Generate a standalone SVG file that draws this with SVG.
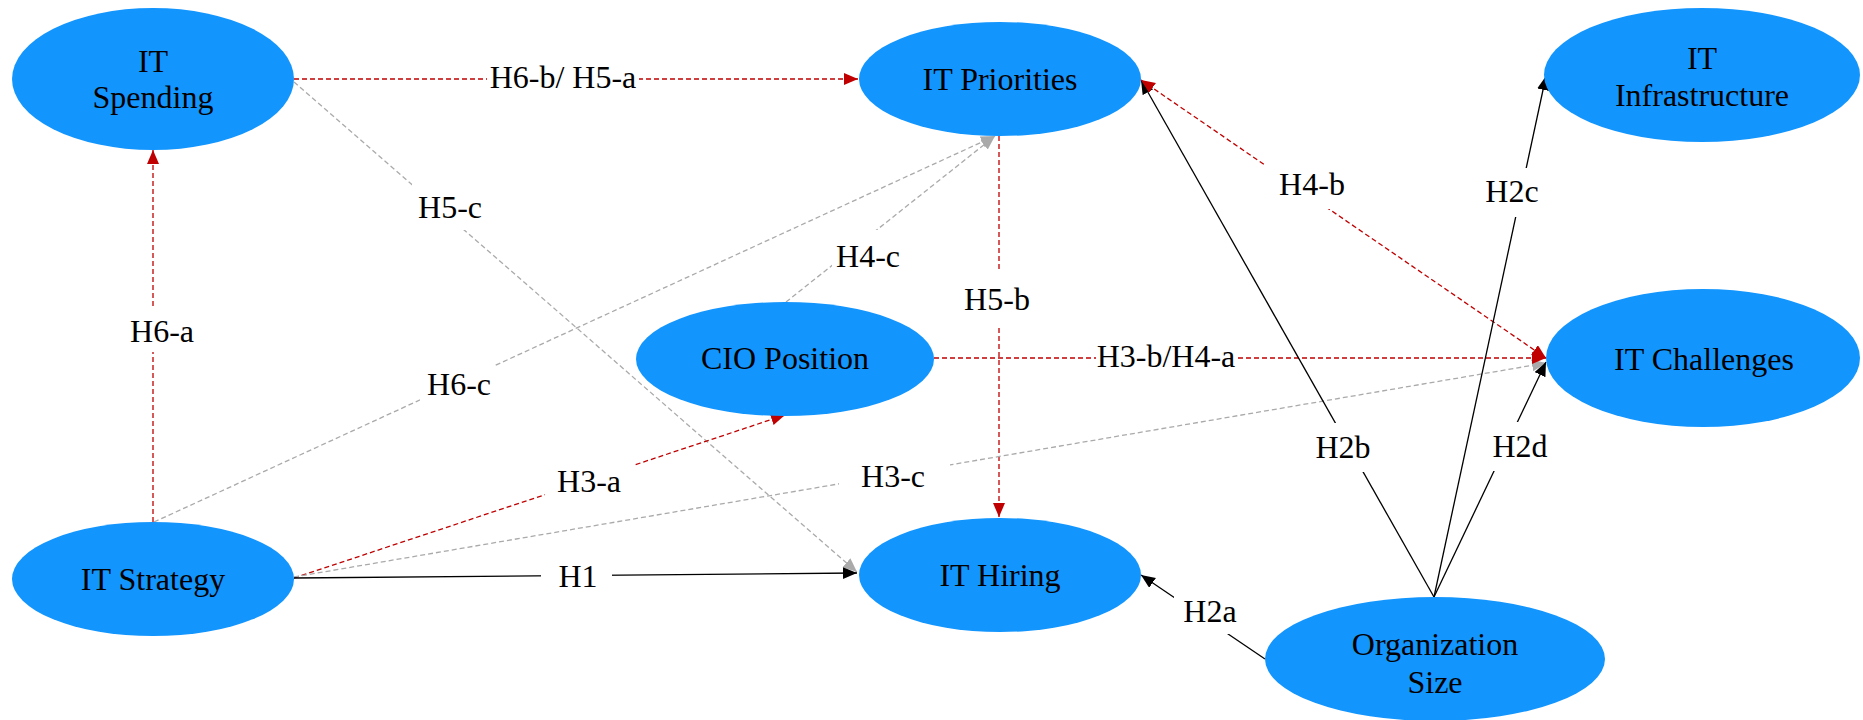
<svg xmlns="http://www.w3.org/2000/svg" width="1863" height="720" viewBox="0 0 1863 720">
<style>
text{font-family:"Liberation Serif","Times New Roman",serif;font-size:32px;fill:#000;text-anchor:middle}
.node ellipse{fill:#1395fe;stroke:none}
.e{fill:none;stroke-width:1.3}
.red{stroke:#c00000;stroke-dasharray:5,3}
.gray{stroke:#aaaaaa;stroke-dasharray:5,3}
.blk{stroke:#000}
.lb{fill:#fff}
</style>
<defs>
<marker id="aR" markerUnits="userSpaceOnUse" markerWidth="16" markerHeight="14" refX="14" refY="6" orient="auto-start-reverse"><path d="M0,0 L14,6 L0,12 z" fill="#c00000"/></marker>
<marker id="aG" markerUnits="userSpaceOnUse" markerWidth="16" markerHeight="14" refX="14" refY="6" orient="auto"><path d="M0,0 L14,6 L0,12 z" fill="#aaaaaa"/></marker>
<marker id="aB" markerUnits="userSpaceOnUse" markerWidth="16" markerHeight="14" refX="14" refY="6" orient="auto"><path d="M0,0 L14,6 L0,12 z" fill="#000"/></marker>
</defs>
<rect width="1863" height="720" fill="#fff"/>
<g id="connectors">
<path class="e red" d="M294,79 L858,79" marker-end="url(#aR)"/>
<path class="e red" d="M153,522 L153,150" marker-end="url(#aR)"/>
<path class="e gray" d="M294,82 L857,572" marker-end="url(#aG)"/>
<path class="e gray" d="M154,522 L995,136" marker-end="url(#aG)"/>
<path class="e gray" d="M786,302 L995,136" marker-end="url(#aG)"/>
<path class="e red" d="M999,136 L999,517" marker-end="url(#aR)"/>
<path class="e red" d="M294,578 L785,415" marker-end="url(#aR)"/>
<path class="e gray" d="M294,577 L1546,363" marker-end="url(#aG)"/>
<path class="e red" d="M934,358 L1546,358" marker-end="url(#aR)"/>
<path class="e blk" d="M294,578 L857,573" marker-end="url(#aB)"/>
<path class="e blk" d="M1434,597 L1141,80" marker-end="url(#aB)"/>
<path class="e red" d="M1141,80 L1546,358" marker-start="url(#aR)" marker-end="url(#aR)"/>
<path class="e blk" d="M1434,597 L1546,76" marker-end="url(#aB)"/>
<path class="e blk" d="M1434,597 L1546,362" marker-end="url(#aB)"/>
<path class="e blk" d="M1265,659 L1141,575" marker-end="url(#aB)"/>
<g id="edge-labels">
<rect class="lb" x="487" y="58" width="152" height="40"/><text x="563" y="88">H6-b/ H5-a</text>
<rect class="lb" x="128" y="308" width="68" height="44"/><text x="162" y="342">H6-a</text>
<rect class="lb" x="412" y="184" width="72" height="46"/><text x="450" y="218">H5-c</text>
<rect class="lb" x="420" y="361" width="74" height="46"/><text x="459" y="395">H6-c</text>
<rect class="lb" x="832" y="230" width="72" height="50"/><text x="868" y="267">H4-c</text>
<rect class="lb" x="963" y="270" width="70" height="55"/><text x="997" y="310">H5-b</text>
<rect class="lb" x="545" y="458" width="89" height="44"/><text x="589" y="492">H3-a</text>
<rect class="lb" x="839" y="455" width="111" height="42"/><text x="893" y="487">H3-c</text>
<rect class="lb" x="1096" y="335" width="140" height="42"/><text x="1166" y="367">H3-b/H4-a</text>
<rect class="lb" x="541" y="555" width="71" height="42"/><text x="578" y="587">H1</text>
<rect class="lb" x="1264" y="163" width="82" height="46"/><text x="1312" y="195">H4-b</text>
<rect class="lb" x="1314" y="423" width="58" height="49"/><text x="1343" y="458">H2b</text>
<rect class="lb" x="1484" y="168" width="56" height="49"/><text x="1512" y="202">H2c</text>
<rect class="lb" x="1491" y="422" width="58" height="49"/><text x="1520" y="457">H2d</text>
<rect class="lb" x="1174" y="590" width="65" height="44"/><text x="1210" y="622">H2a</text>
</g>
</g>
<g id="node-it-spending" class="node"><ellipse cx="153" cy="79" rx="141" ry="71"/><text x="153" y="72">IT</text><text x="153" y="108">Spending</text></g>
<g id="node-it-priorities" class="node"><ellipse cx="1000" cy="79" rx="141" ry="57"/><text x="1000" y="90">IT Priorities</text></g>
<g id="node-it-infrastructure" class="node"><ellipse cx="1702" cy="75" rx="158" ry="67"/><text x="1702" y="69">IT</text><text x="1702" y="106">Infrastructure</text></g>
<g id="node-cio-position" class="node"><ellipse cx="785" cy="359" rx="149" ry="57"/><text x="785" y="369">CIO Position</text></g>
<g id="node-it-challenges" class="node"><ellipse cx="1703" cy="358" rx="157" ry="69"/><text x="1704" y="370">IT Challenges</text></g>
<g id="node-it-strategy" class="node"><ellipse cx="153" cy="579" rx="141" ry="57"/><text x="153" y="590">IT Strategy</text></g>
<g id="node-it-hiring" class="node"><ellipse cx="1000" cy="575" rx="141" ry="57"/><text x="1000" y="586">IT Hiring</text></g>
<g id="node-organization-size" class="node"><ellipse cx="1435" cy="659" rx="170" ry="62"/><text x="1435" y="655">Organization</text><text x="1435" y="693">Size</text></g>
</svg>
